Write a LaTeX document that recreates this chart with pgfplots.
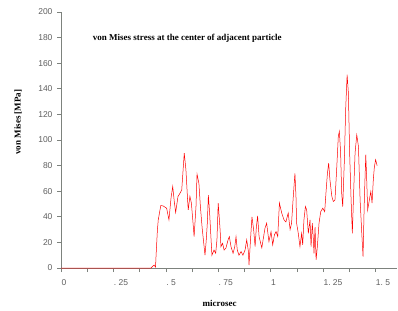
\documentclass[border=0pt]{standalone}
\usepackage{fontspec}
\setmainfont{Liberation Serif}
\setsansfont{Liberation Sans}
\usepackage{pgfplots}
\pgfplotsset{compat=1.18}
\definecolor{axgray}{RGB}{125,130,125}
\definecolor{labgray}{RGB}{95,95,95}
\begin{document}
\begin{tikzpicture}[x=1pt,y=1pt]
\useasboundingbox (0,0) rectangle (398,310);
\begin{axis}[
  at={(61pt,42pt)}, anchor=south west,
  scale only axis, width=336pt, height=256pt,
  xmin=0, xmax=1.603, ymin=0, ymax=200,
  axis x line=bottom, axis y line=left,
  axis line style={-, draw=axgray, line width=0.9pt},
  tick style={draw=axgray, line width=0.6pt},
  tick align=outside,
  major tick length=4pt, minor tick length=4pt,
  xtick={0,0.25,0.5,0.75,1,1.25,1.5},
  minor xtick={0.125,0.375,0.625,0.875,1.125,1.375},
  xticklabels={0,.\ 25,.\ 5,.\ 75,1,1.\ 25,1.\ 5},
  ytick={0,20,...,200},
  /pgf/number format/assume math mode=true,
  tick label style={font=\sffamily\fontsize{8.5}{10}\selectfont, text=labgray},
  xticklabel style={anchor=north west, xshift=-3pt, yshift=-4pt},
  yticklabel style={xshift=-1pt},
  xlabel={microsec},
  ylabel={von Mises [MPa]},
  title={von Mises stress at the center of adjacent particle},
  every axis title shift=0pt,
  label style={font=\bfseries\fontsize{9}{11}\selectfont},
  title style={font=\bfseries\fontsize{9}{11}\selectfont, at={(rel axis cs:0.376,0.898)}, anchor=center},
  xlabel style={at={(rel axis cs:0.472,-0.137)}, anchor=center},
  ylabel style={at={(rel axis cs:-0.128,0.570)}, anchor=center},
  clip=false,
]
\addplot[red, line width=0.5pt] coordinates {
(0,0) (0.429,0) (0.444,2.3) (0.451,0.8) (0.453,8) (0.460,30) (0.464,37.6) (0.476,48.8)
(0.487,48.5) (0.504,46.7) (0.515,37.6) (0.525,54.8) (0.533,63.7) (0.541,51) (0.547,43.3)
(0.558,55.8) (0.568,58.5) (0.576,61) (0.588,89.8) (0.596,76.7) (0.604,53) (0.607,45.4)
(0.615,56) (0.622,50.7) (0.630,35) (0.635,24.5) (0.644,48) (0.649,73.4) (0.658,66)
(0.665,48) (0.673,32) (0.681,19.3) (0.687,10) (0.693,22) (0.698,35) (0.703,57)
(0.709,43) (0.716,22) (0.720,10) (0.730,14) (0.738,11.5) (0.744,22) (0.750,50.7)
(0.759,30) (0.763,16.7) (0.771,19.3) (0.778,14) (0.787,15.6) (0.797,22) (0.803,24.5)
(0.811,16.7) (0.821,11.5) (0.829,16.7) (0.835,24.5) (0.841,14) (0.849,10) (0.859,12.8)
(0.868,10) (0.878,14) (0.886,22) (0.894,13) (0.897,2.3) (0.905,24.5) (0.911,40)
(0.919,30) (0.926,16.7) (0.932,32) (0.938,40.7) (0.945,24.5) (0.958,15.7) (0.973,31)
(0.981,35) (0.992,20.6) (1.002,28.4) (1.010,18) (1.018,25.8) (1.026,28.4) (1.034,24.5)
(1.042,50.7) (1.053,43) (1.064,37.6) (1.073,36) (1.084,43) (1.093,30) (1.100,35)
(1.107,53) (1.116,74) (1.121,56) (1.124,35) (1.132,27) (1.140,16.7) (1.148,27)
(1.153,18) (1.159,37.6) (1.166,48) (1.172,45.4) (1.180,27) (1.188,37.6) (1.193,16.7)
(1.199,35) (1.204,22) (1.207,11.5) (1.212,32) (1.217,6.3) (1.223,16.7) (1.231,35)
(1.239,44) (1.249,46.7) (1.258,44) (1.264,58.5) (1.271,74) (1.277,82) (1.283,69)
(1.292,56) (1.299,52) (1.307,53) (1.315,76.7) (1.323,103) (1.328,106.7) (1.334,90)
(1.339,58.5) (1.344,48) (1.352,84.6) (1.358,123.7) (1.365,151) (1.371,136.8) (1.377,90)
(1.384,53) (1.390,27) (1.396,58.5) (1.403,90) (1.411,104) (1.419,95) (1.427,53)
(1.435,27) (1.441,8.8) (1.447,53) (1.454,88.5) (1.458,71.5) (1.463,45.4) (1.471,53)
(1.478,59.8) (1.484,50.7) (1.490,69) (1.495,79) (1.501,84.6) (1.508,80)
};
\end{axis}
\end{tikzpicture}
\end{document}
